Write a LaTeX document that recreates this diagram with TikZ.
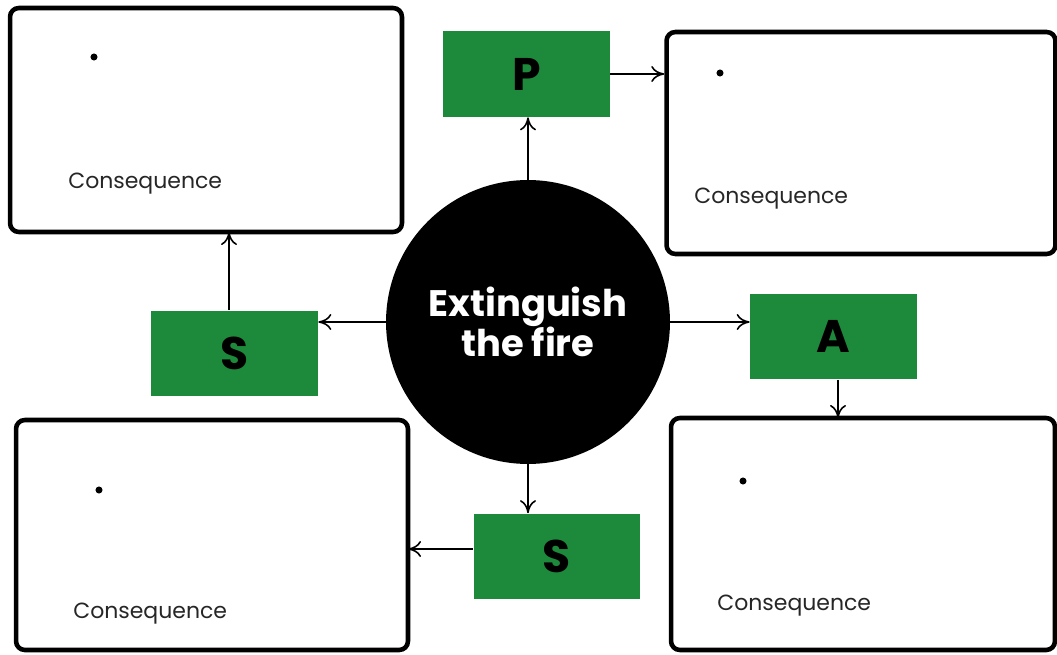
\documentclass[tikz,border=0pt]{standalone}
\usepackage{fontspec}
\setmainfont{Poppins}
\usetikzlibrary{arrows.meta,positioning}
\definecolor{cGreen}{HTML}{1D8A3B}
\tikzset{
  conbox/.style={draw=black,line width=2.6pt,rounded corners=5pt,fill=white,inner sep=0pt},
  letbox/.style={fill=cGreen,inner sep=0pt,minimum width=3.34cm,minimum height=1.72cm,font=\fontsize{26}{30}\selectfont\bfseries},
  fire/.style={circle,fill=black,inner sep=0pt,minimum size=5.68cm,text=white,align=center,font=\fontsize{21}{23}\selectfont\bfseries},
  dot/.style={circle,fill=black,inner sep=0pt,minimum size=4pt},
  conlbl/.style={anchor=west,inner sep=0pt,font=\fontsize{12.5}{15}\selectfont,text=black!85},
  arr/.style={-{To[length=2.6mm,width=3.2mm]},line width=0.9pt},
}
\begin{document}
\begin{tikzpicture}[x=0.02cm,y=-0.02cm]
  \useasboundingbox (0,0) rectangle (1057,655);
  % consequence boxes
  \node[conbox,minimum width=7.84cm,minimum height=4.48cm] (tl) at (206,120) {};
  \node[conbox,minimum width=7.78cm,minimum height=4.44cm] (tr) at (861,143) {};
  \node[conbox,minimum width=7.84cm,minimum height=4.60cm] (bl) at (212,535) {};
  \node[conbox,minimum width=7.68cm,minimum height=4.64cm] (br) at (863,534) {};
  \node[dot] (tldot) at (94,57) {};
  \node[dot] (trdot) at (720,73) {};
  \node[dot] (bldot) at (99,490) {};
  \node[dot] (brdot) at (743,481) {};
  \node[conlbl] (tltxt) at (68,184) {Consequence};
  \node[conlbl] (trtxt) at (694,199) {Consequence};
  \node[conlbl] (bltxt) at (73,614) {Consequence};
  \node[conlbl] (brtxt) at (717,606) {Consequence};
  % centre and letters
  \node[fire] (fire) at (528,322) {Extinguish\\the fire};
  \node[letbox] (p) at (526.5,74) {P};
  \node[letbox] (sl) at (234.5,353.5) {S};
  \node[letbox] (a) at (833.5,336.5) {A};
  \node[letbox] (sb) at (557,556.5) {S};
  % arrows
  \draw[arr] (fire.north) -- (fire.north |- p.south);
  \draw[arr] (p.east) -- (p.east -| tr.west);
  \draw[arr] (fire.west) -- (fire.west -| sl.east);
  \draw[arr] (sl.north -| 229,0) -- (229,232);
  \draw[arr] (fire.east) -- (fire.east -| a.west);
  \draw[arr] (a.south -| 838,0) -- (838,418);
  \draw[arr] (fire.south) -- (fire.south |- sb.north);
  \draw[arr] (sb.west |- 0,549) -- (408,549);
\end{tikzpicture}
\end{document}
